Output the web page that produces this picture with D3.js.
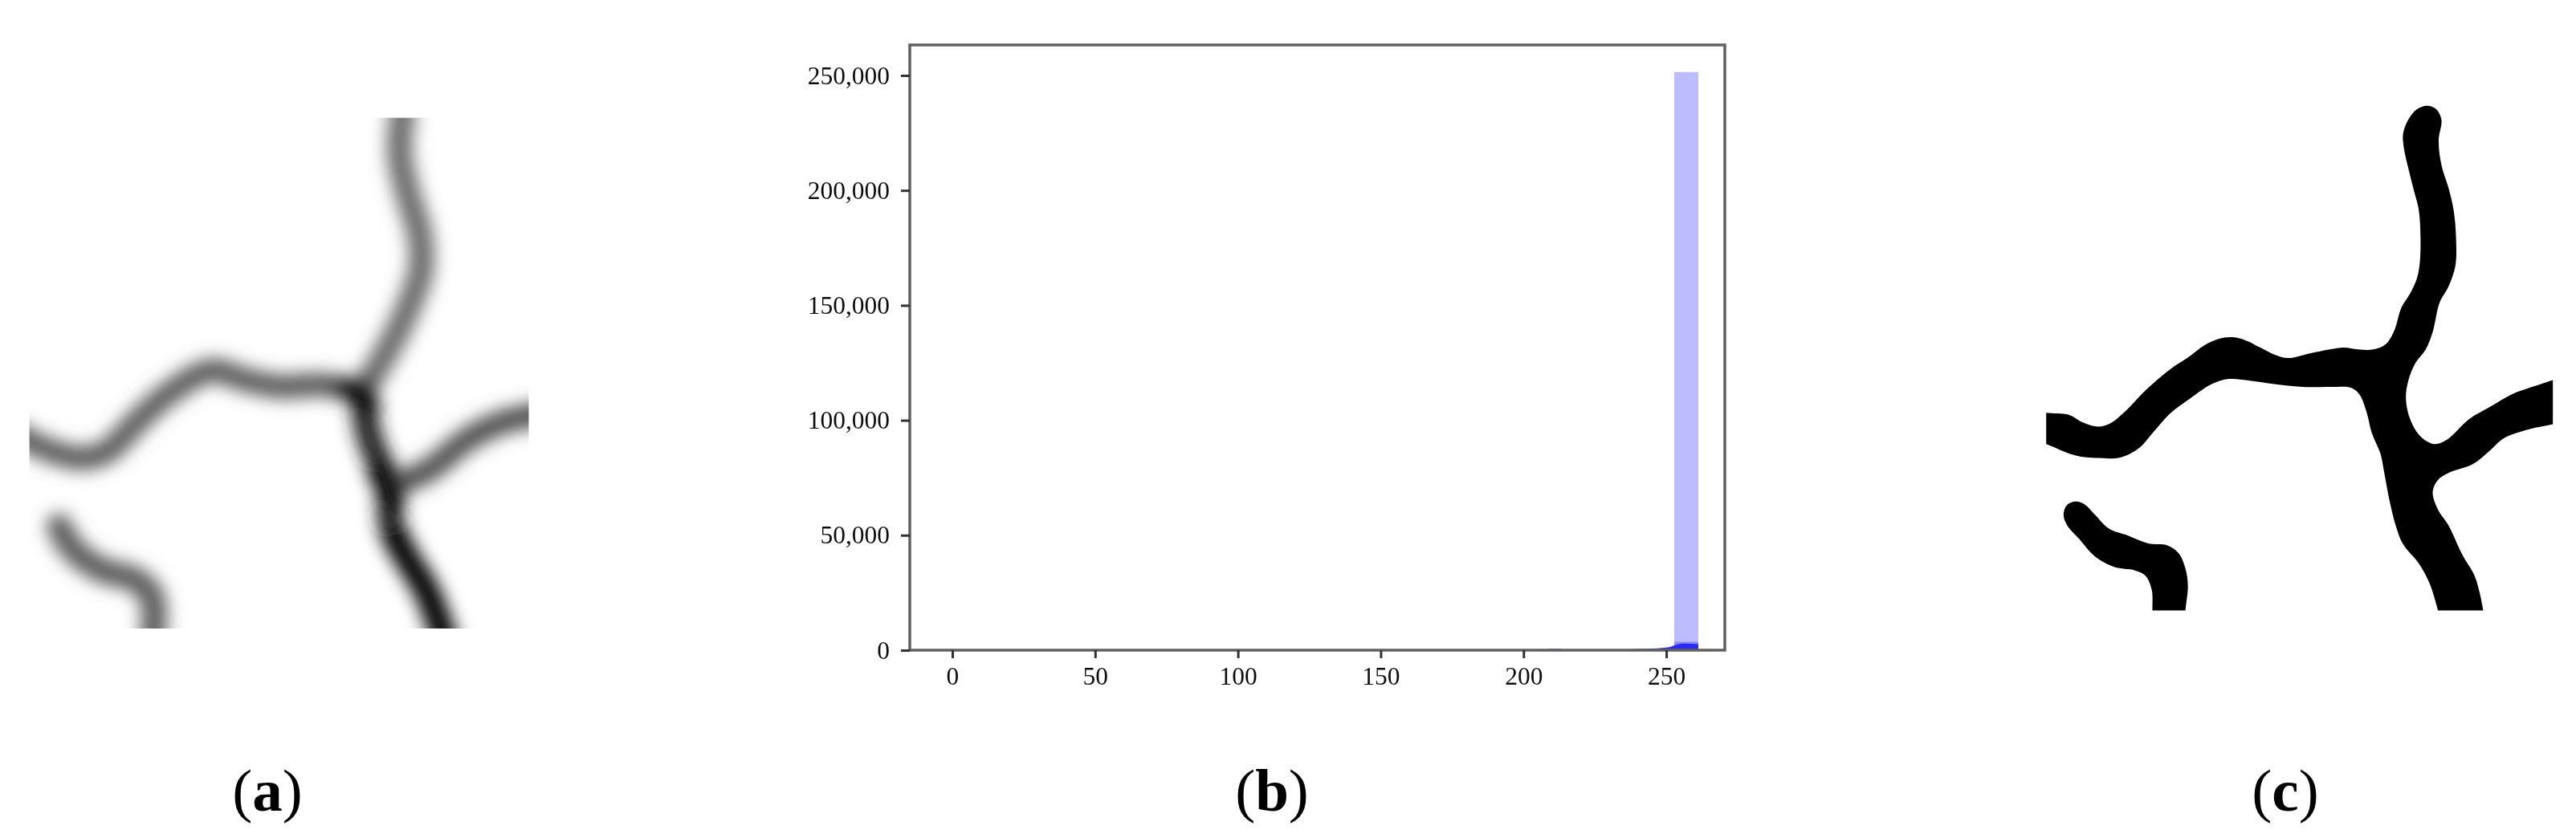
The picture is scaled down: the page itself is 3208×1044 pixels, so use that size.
<!DOCTYPE html>
<html><head><meta charset="utf-8">
<script src="https://cdn.jsdelivr.net/npm/d3@7"></script>
<style>html,body{margin:0;padding:0;background:#fff}svg{display:block}</style>
</head><body><svg id="c" width="3208" height="1044"></svg>
<script>
// Histogram data (panel b)
const yTicks=[0,50000,100000,150000,200000,250000];
const xTicks=[0,50,100,150,200,250];
const tallBin={x0:252.8,x1:261.2,count:251500};
const lowBin={x0:252.8,x1:261.2,count:3700};
const faintBin={x0:208.4,x1:213.4,count:700};
const kdeX=[237,242,247,250,252,254,256,259,261.2];
const kdeY=[350,600,800,1100,1700,2500,2900,2800,2600];
// Panel labels
const panelLabels=["a","b","c"];
const panelLabelX=[333,1584,2846];
// Panel (c): traced binary mask outlines, in image units
const maskMain=[[30,925],[65,932],[130,938],[170,960],[215,972],[250,962],[290,930],[350,868],[420,808],[470,775],[520,738],[560,720],[600,715],[640,725],[680,745],[720,765],[760,775],[820,762],[880,750],[920,745],[960,750],[1005,750],[1040,735],[1065,695],[1085,630],[1110,590],[1130,545],[1138,500],[1140,430],[1135,350],[1120,290],[1105,230],[1092,170],[1090,130],[1105,90],[1130,60],[1160,50],[1185,60],[1200,90],[1192,150],[1200,220],[1220,285],[1235,350],[1242,430],[1240,510],[1220,570],[1195,615],[1175,700],[1155,750],[1125,790],[1105,840],[1098,890],[1110,950],[1140,1000],[1180,1022],[1215,1010],[1280,950],[1340,915],[1400,880],[1460,858],[1520,838],[1560,825],[1560,955],[1520,965],[1450,980],[1380,1005],[1340,1040],[1290,1080],[1220,1105],[1190,1125],[1175,1160],[1190,1210],[1220,1255],[1260,1340],[1295,1400],[1310,1450],[1320,1500],[1328,1545],[1200,1545],[1190,1500],[1165,1420],[1135,1365],[1090,1310],[1070,1260],[1050,1180],[1035,1100],[1025,1050],[1000,990],[985,930],[965,880],[940,860],[880,858],[800,858],[720,850],[650,840],[590,835],[540,850],[480,890],[420,935],[375,985],[330,1035],[280,1060],[210,1062],[150,1055],[65,1022],[30,1010]];
const maskSmall=[[150,1187],[175,1195],[205,1225],[245,1265],[300,1285],[360,1308],[410,1312],[445,1335],[465,1380],[472,1430],[465,1500],[463,1545],[370,1545],[370,1500],[368,1440],[350,1400],[320,1385],[260,1375],[205,1345],[160,1295],[125,1255],[115,1225],[125,1197]];
// Panel (a): blurred vessel centre lines, in image units
const vesselLeft=[[40,940],[130,985],[230,1010],[300,990],[380,910],[470,830],[590,765],[680,790],[780,810],[900,805],[1010,825]];
const vesselTop=[[1125,30],[1115,160],[1140,280],[1170,380],[1175,480],[1130,610],[1080,710],[1010,825]];
const vesselDown=[[1010,825],[1030,950],[1085,1090],[1090,1190],[1130,1280],[1190,1380],[1245,1530]];
const vesselRight=[[1085,1090],[1200,1040],[1300,960],[1400,910],[1520,885]];
const vesselSmall=[[165,1200],[200,1260],[280,1320],[380,1350],[425,1400],[425,1530]];
const vesselCoreA=[[960,815],[1010,830],[1030,860]];
const vesselCoreB=[[1060,1050],[1085,1095],[1095,1130]];
const vesselCoreC=[[1100,1230],[1130,1280],[1190,1380],[1245,1530]];
const vesselGreys=["#5c5c5c","#6a6a6a","#202020","#505050","#5c5c5c","#000","#000","#000"];
const vesselWidths=[66,70,72,66,70,60,70,70];

const svg=d3.select("#c");
const defs=svg.append("defs");
defs.append("filter").attr("id","blurA").attr("x","-20%").attr("y","-20%").attr("width","140%").attr("height","140%")
  .append("feGaussianBlur").attr("stdDeviation",10.5);
defs.append("filter").attr("id","soft").attr("filterUnits","userSpaceOnUse").attr("x",0).attr("y",0).attr("width",3208).attr("height",1044)
  .append("feGaussianBlur").attr("stdDeviation",0.7);

// Panel (a)
const ax=d3.scaleLinear().domain([0,1568]).range([0,700]);
const ay=d3.scaleLinear().domain([0,1568]).range([120,820]);
defs.append("clipPath").attr("id","clipA").append("rect")
  .attr("x",ax(82)).attr("y",ay(60)).attr("width",ax(1475)-ax(82)).attr("height",ay(1485)-ay(60));
const lineA=d3.line().x(d=>ax(d[0])).y(d=>ay(d[1])).curve(d3.curveCatmullRom);
const gA=svg.append("g").attr("clip-path","url(#clipA)").append("g").attr("filter","url(#blurA)");
[vesselLeft,vesselTop,vesselDown,vesselRight,vesselSmall,vesselCoreA,vesselCoreB,vesselCoreC].forEach((v,i)=>{
  gA.append("path").attr("d",lineA(v)).attr("fill","none").attr("stroke",vesselGreys[i])
    .attr("stroke-width",ax(vesselWidths[i])).attr("stroke-linecap","round").attr("stroke-linejoin","round");
});

// Panel (c)
const cx=d3.scaleLinear().domain([0,1568]).range([2520,3200]);
const cy=d3.scaleLinear().domain([0,1568]).range([110,790]);
defs.append("clipPath").attr("id","clipC").append("rect")
  .attr("x",cx(65)).attr("y",cy(0)).attr("width",cx(1520)-cx(65)).attr("height",cy(1500)-cy(0));
const lineC=d3.line().x(d=>cx(d[0])).y(d=>cy(d[1])).curve(d3.curveCatmullRomClosed);
const gC=svg.append("g").attr("clip-path","url(#clipC)").append("g").attr("filter","url(#soft)");
[maskMain,maskSmall].forEach(m=>gC.append("path").attr("d",lineC(m)).attr("fill","#000"));

// Panel (b)
const x=d3.scaleLinear().domain([-14.9,270.5]).range([1133,2148]);
const y=d3.scaleLinear().domain([0,263270]).range([810,56]);
const gB=svg.append("g").attr("filter","url(#soft)");
const bar=(b,c)=>gB.append("rect").attr("x",x(b.x0)).attr("width",x(b.x1)-x(b.x0))
  .attr("y",y(b.count)).attr("height",y(0)-y(b.count)).attr("fill",c);
bar(tallBin,"#bcbcff");
bar(faintBin,"#8c8cf0");
bar(lowBin,"#8a8aff");
gB.append("path").attr("fill","#2a2af0")
  .attr("d",d3.area().x((d,i)=>x(kdeX[i])).y0(y(0)).y1(d=>y(d)).curve(d3.curveMonotoneX)(kdeY));
gB.append("rect").attr("x",x.range()[0]).attr("y",y.range()[1])
  .attr("width",x.range()[1]-x.range()[0]).attr("height",y.range()[0]-y.range()[1])
  .attr("fill","none").attr("stroke","#606060").attr("stroke-width",3.5);
const styleAxis=g=>{
  g.select(".domain").remove();
  g.selectAll("line").attr("stroke","#333").attr("stroke-width",3);
  g.selectAll("text").attr("font-family","'Liberation Serif',serif").attr("font-size",31.5).attr("fill","#111");
};
gB.append("g").attr("transform",`translate(${x.range()[0]},0)`)
  .call(d3.axisLeft(y).tickValues(yTicks).tickFormat(d3.format(",")).tickSize(11).tickPadding(14)).call(styleAxis);
gB.append("g").attr("transform",`translate(0,${y.range()[0]})`)
  .call(d3.axisBottom(x).tickValues(xTicks).tickSize(10).tickPadding(11)).call(styleAxis);

// Panel labels
panelLabels.forEach((l,i)=>{
  const t=svg.append("text").attr("x",panelLabelX[i]).attr("y",1010).attr("text-anchor","middle")
    .attr("font-family","'Liberation Serif',serif").attr("font-size",75).attr("fill","#000");
  t.append("tspan").text("(");
  t.append("tspan").attr("font-weight","bold").text(l);
  t.append("tspan").text(")");
});
</script></body></html>
